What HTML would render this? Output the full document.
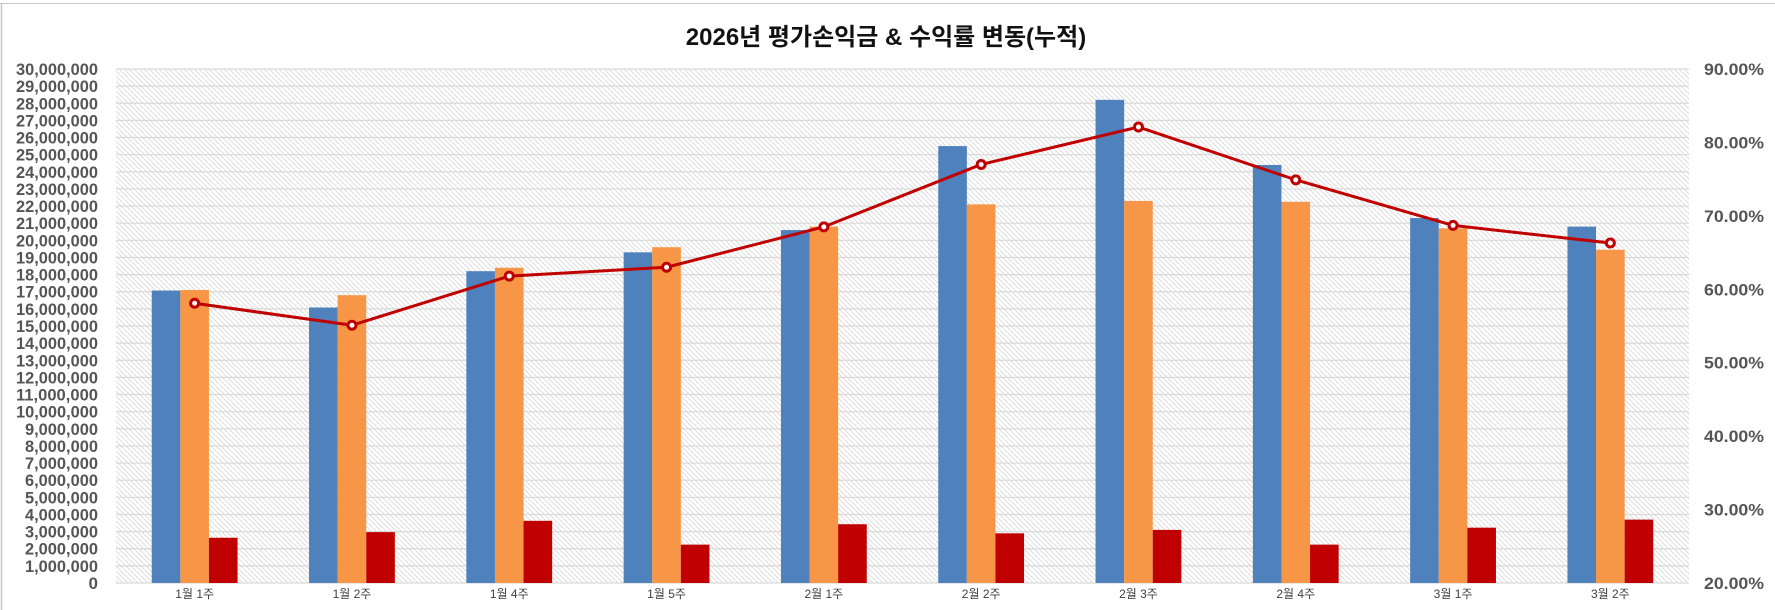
<!DOCTYPE html>
<html><head><meta charset="utf-8"><style>
html,body{margin:0;padding:0;background:#fff;}
svg{display:block;}
</style></head><body>
<svg width="1775" height="610" xmlns="http://www.w3.org/2000/svg" font-family="'Liberation Sans','Noto Sans CJK KR',sans-serif">
<defs>
<pattern id="h" width="5" height="5" patternUnits="userSpaceOnUse">
<rect width="5" height="5" fill="#fff"/>
<path d="M-1,-1 L6,6 M-1,4 L1,6 M4,-1 L6,1" stroke="#dadada" stroke-width="0.9"/>
</pattern>
</defs>
<rect width="1775" height="610" fill="#fff"/>
<line x1="0" y1="3.5" x2="1775" y2="3.5" stroke="#c8c8c8" stroke-width="1"/>
<line x1="1.5" y1="3" x2="1.5" y2="610" stroke="#c8c8c8" stroke-width="1.5"/>
<text x="886" y="45" text-anchor="middle" font-size="24" font-weight="bold" fill="#111">2026년 평가손익금 &amp; 수익률 변동(누적)</text>
<rect x="116" y="69" width="1573" height="514" fill="url(#h)"/>
<g id="grid" stroke="#d9d9d9" stroke-width="1.2"></g>
<g id="bars"></g>
<g id="lbl" font-size="17" font-weight="bold" fill="#555"></g>
<g id="cat" font-size="12" fill="#404040" text-anchor="middle"></g>
<g id="line"></g>
<script>
(function(){
var NS="http://www.w3.org/2000/svg";
function el(p,t,a,txt){var e=document.createElementNS(NS,t);for(var k in a)e.setAttribute(k,a[k]);if(txt!=null)e.textContent=txt;document.getElementById(p).appendChild(e);return e;}
var T=69,B=583,L=116,R=1689,H=B-T;
for(var i=0;i<=30;i++){var y=B-H*i/30;el("grid","line",{x1:L,x2:R,y1:y,y2:y});
var s=i==0?"0":(i+",000,000");var a={x:98,y:y+6,"text-anchor":"end"};if(i>=10){a.textLength=82;a.lengthAdjust="spacingAndGlyphs";}else if(i>0){a.textLength=73;a.lengthAdjust="spacingAndGlyphs";}el("lbl","text",a,s);}
for(var j=0;j<=7;j++){var y2=B-H*j/7;el("lbl","text",{x:1704,y:y2+6,textLength:60,lengthAdjust:"spacingAndGlyphs"},(20+j*10)+".00%");}
var cats=["1월 1주","1월 2주","1월 4주","1월 5주","2월 1주","2월 2주","2월 3주","2월 4주","3월 1주","3월 2주"];
var b=[17.07,16.08,18.2,19.3,20.6,25.5,28.2,24.4,21.3,20.8];
var o=[17.1,16.8,18.4,19.6,20.8,22.1,22.3,22.25,20.7,19.45];
var r=[2.64,2.97,3.63,2.24,3.43,2.9,3.1,2.24,3.23,3.7];
var p=[58.1,55.1,61.8,63.0,68.5,77.0,82.1,74.9,68.7,66.3];
var cw=(R-L)/10,bw=28.6,pts=[];
for(var i2=0;i2<10;i2++){var c=L+cw*(i2+0.5);
[[b[i2],"#4f81bd"],[o[i2],"#f79646"],[r[i2],"#c00000"]].forEach(function(v,k){var h=H*v[0]/30;el("bars","rect",{x:c-1.5*bw+k*bw,y:B-h,width:bw,height:h,fill:v[1]});});
el("cat","text",{x:c,y:598},cats[i2]);
pts.push([c,B-H*(p[i2]-20)/70]);}
el("line","polyline",{points:pts.map(function(q){return q.join(",")}).join(" "),fill:"none",stroke:"#c00000","stroke-width":3});
pts.forEach(function(q){el("line","circle",{cx:q[0],cy:q[1],r:4,fill:"#fff",stroke:"#c00000","stroke-width":3});});
})();
</script>
</svg>
</body></html>
